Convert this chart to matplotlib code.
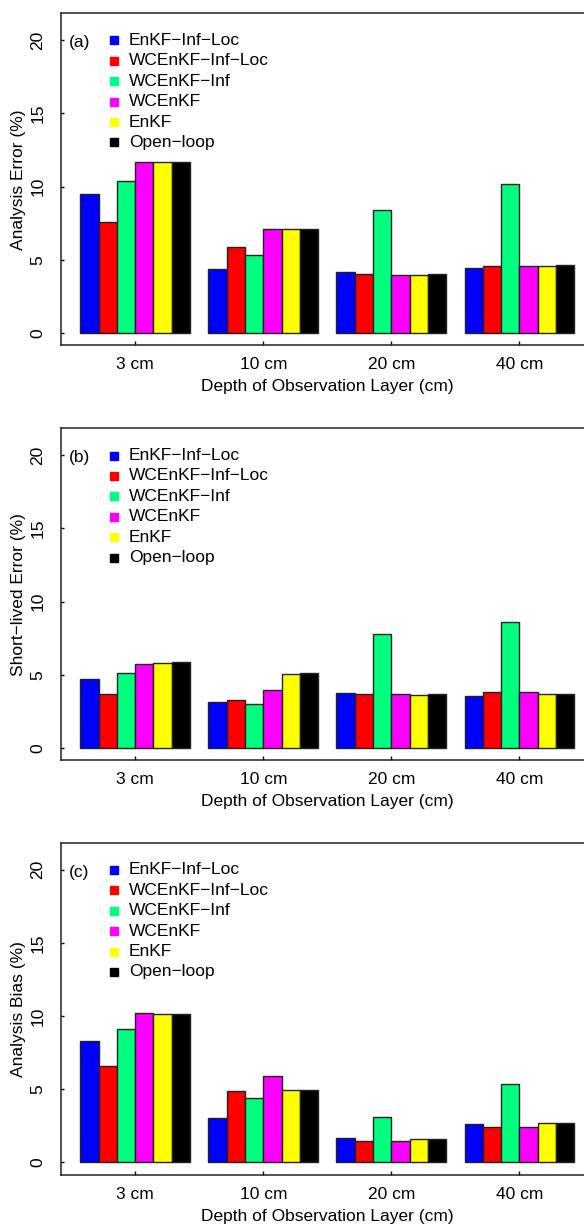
import matplotlib
matplotlib.use("Agg")
import matplotlib.pyplot as plt
import numpy as np

plt.rcParams['font.family'] = ['Liberation Sans', 'DejaVu Sans']
plt.rcParams['axes.unicode_minus'] = True

depths = ["3 cm", "10 cm", "20 cm", "40 cm"]
methods = ["EnKF\u2212Inf\u2212Loc", "WCEnKF\u2212Inf\u2212Loc", "WCEnKF\u2212Inf",
           "WCEnKF", "EnKF", "Open\u2212loop"]
colors = ["#0000FF", "#FF0000", "#00FF7F", "#FF00FF", "#FFFF00", "#000000"]

# values per method (rows) across depths (columns)
analysis_error = [
    [9.5, 4.4, 4.15, 4.45],    # EnKF-Inf-Loc
    [7.55, 5.9, 4.0, 4.6],     # WCEnKF-Inf-Loc
    [10.4, 5.3, 8.4, 10.2],    # WCEnKF-Inf
    [11.7, 7.1, 3.98, 4.58],   # WCEnKF
    [11.7, 7.1, 3.98, 4.56],   # EnKF
    [11.7, 7.12, 4.0, 4.62],   # Open-loop
]
short_lived_error = [
    [4.73, 3.14, 3.78, 3.57],
    [3.66, 3.28, 3.71, 3.85],
    [5.10, 2.98, 7.78, 8.60],
    [5.73, 3.98, 3.71, 3.85],
    [5.80, 5.05, 3.64, 3.66],
    [5.85, 5.10, 3.66, 3.71],
]
analysis_bias = [
    [8.26, 3.06, 1.68, 2.59],
    [6.61, 4.90, 1.48, 2.41],
    [9.08, 4.43, 3.11, 5.36],
    [10.19, 5.90, 1.48, 2.41],
    [10.12, 4.93, 1.59, 2.66],
    [10.15, 4.97, 1.63, 2.68],
]
panels = [("(a)", "Analysis Error (%)", analysis_error),
          ("(b)", "Short\u2212lived Error (%)", short_lived_error),
          ("(c)", "Analysis Bias (%)", analysis_bias)]
yticks = [0, 5, 10, 15, 20]

W, H = 584, 1228
fig = plt.figure(figsize=(W / 100, H / 100), dpi=100)

ax_left_px = 60.5
ax_w_px = 533.6
ax_h_px = 332.0
tops_px = [13.3, 428.3, 842.7]
FS = 12.5

for (tag, ylabel, data), top in zip(panels, tops_px):
    ax = fig.add_axes([ax_left_px / W, 1 - (top + ax_h_px) / H, ax_w_px / W, ax_h_px / H])
    nm = len(methods)
    for j in range(nm):
        x = [1 + 7 * g + j for g in range(len(depths))]
        ax.bar(x, data[j], width=1.0, align='edge', color=colors[j],
               edgecolor='#222222', linewidth=1.0, zorder=2)
    ax.set_xlim(-0.08, 29.08)
    ax.set_ylim(-0.84, 21.84)
    centers = [1 + 7 * g + nm / 2 for g in range(len(depths))]
    ax.set_xticks(centers)
    ax.set_xticklabels(depths, fontsize=FS)
    ax.set_yticks(yticks)
    ax.set_yticklabels([str(v) for v in yticks], fontsize=FS, rotation=90, va='center')
    ax.tick_params(axis='x', direction='in', length=3, width=1, pad=8.5)
    ax.tick_params(axis='y', direction='in', length=2.5, width=1, pad=11)
    for s in ['left', 'bottom', 'top', 'right']:
        ax.spines[s].set_linewidth(1.1)
        ax.spines[s].set_color('#222222')
    ax.set_xlabel("Depth of Observation Layer (cm)", fontsize=FS, va='center')
    ax.xaxis.set_label_coords(0.5, -41.5 / ax_h_px)
    ax.set_ylabel(ylabel, fontsize=FS, va='center')
    ax.yaxis.set_label_coords(-(ax_left_px - 19) / ax_w_px, 0.5)

    # panel tag
    ax.text((69 - ax_left_px) / ax_w_px, (ax_h_px - 29.4) / ax_h_px, tag,
            transform=ax.transAxes, fontsize=FS, ha='left', va='center')
    # legend
    for i, (m, c) in enumerate(zip(methods, colors)):
        yy = (ax_h_px - (27.2 + 20.4 * i)) / ax_h_px
        ax.plot([(113.5 - ax_left_px) / ax_w_px], [yy], marker='s', markersize=5.2,
                color=c, linestyle='none', transform=ax.transAxes, clip_on=False)
        ax.text((129 - ax_left_px) / ax_w_px, yy, m, transform=ax.transAxes,
                fontsize=FS, ha='left', va='center')

fig.savefig("out.png", dpi=100)
